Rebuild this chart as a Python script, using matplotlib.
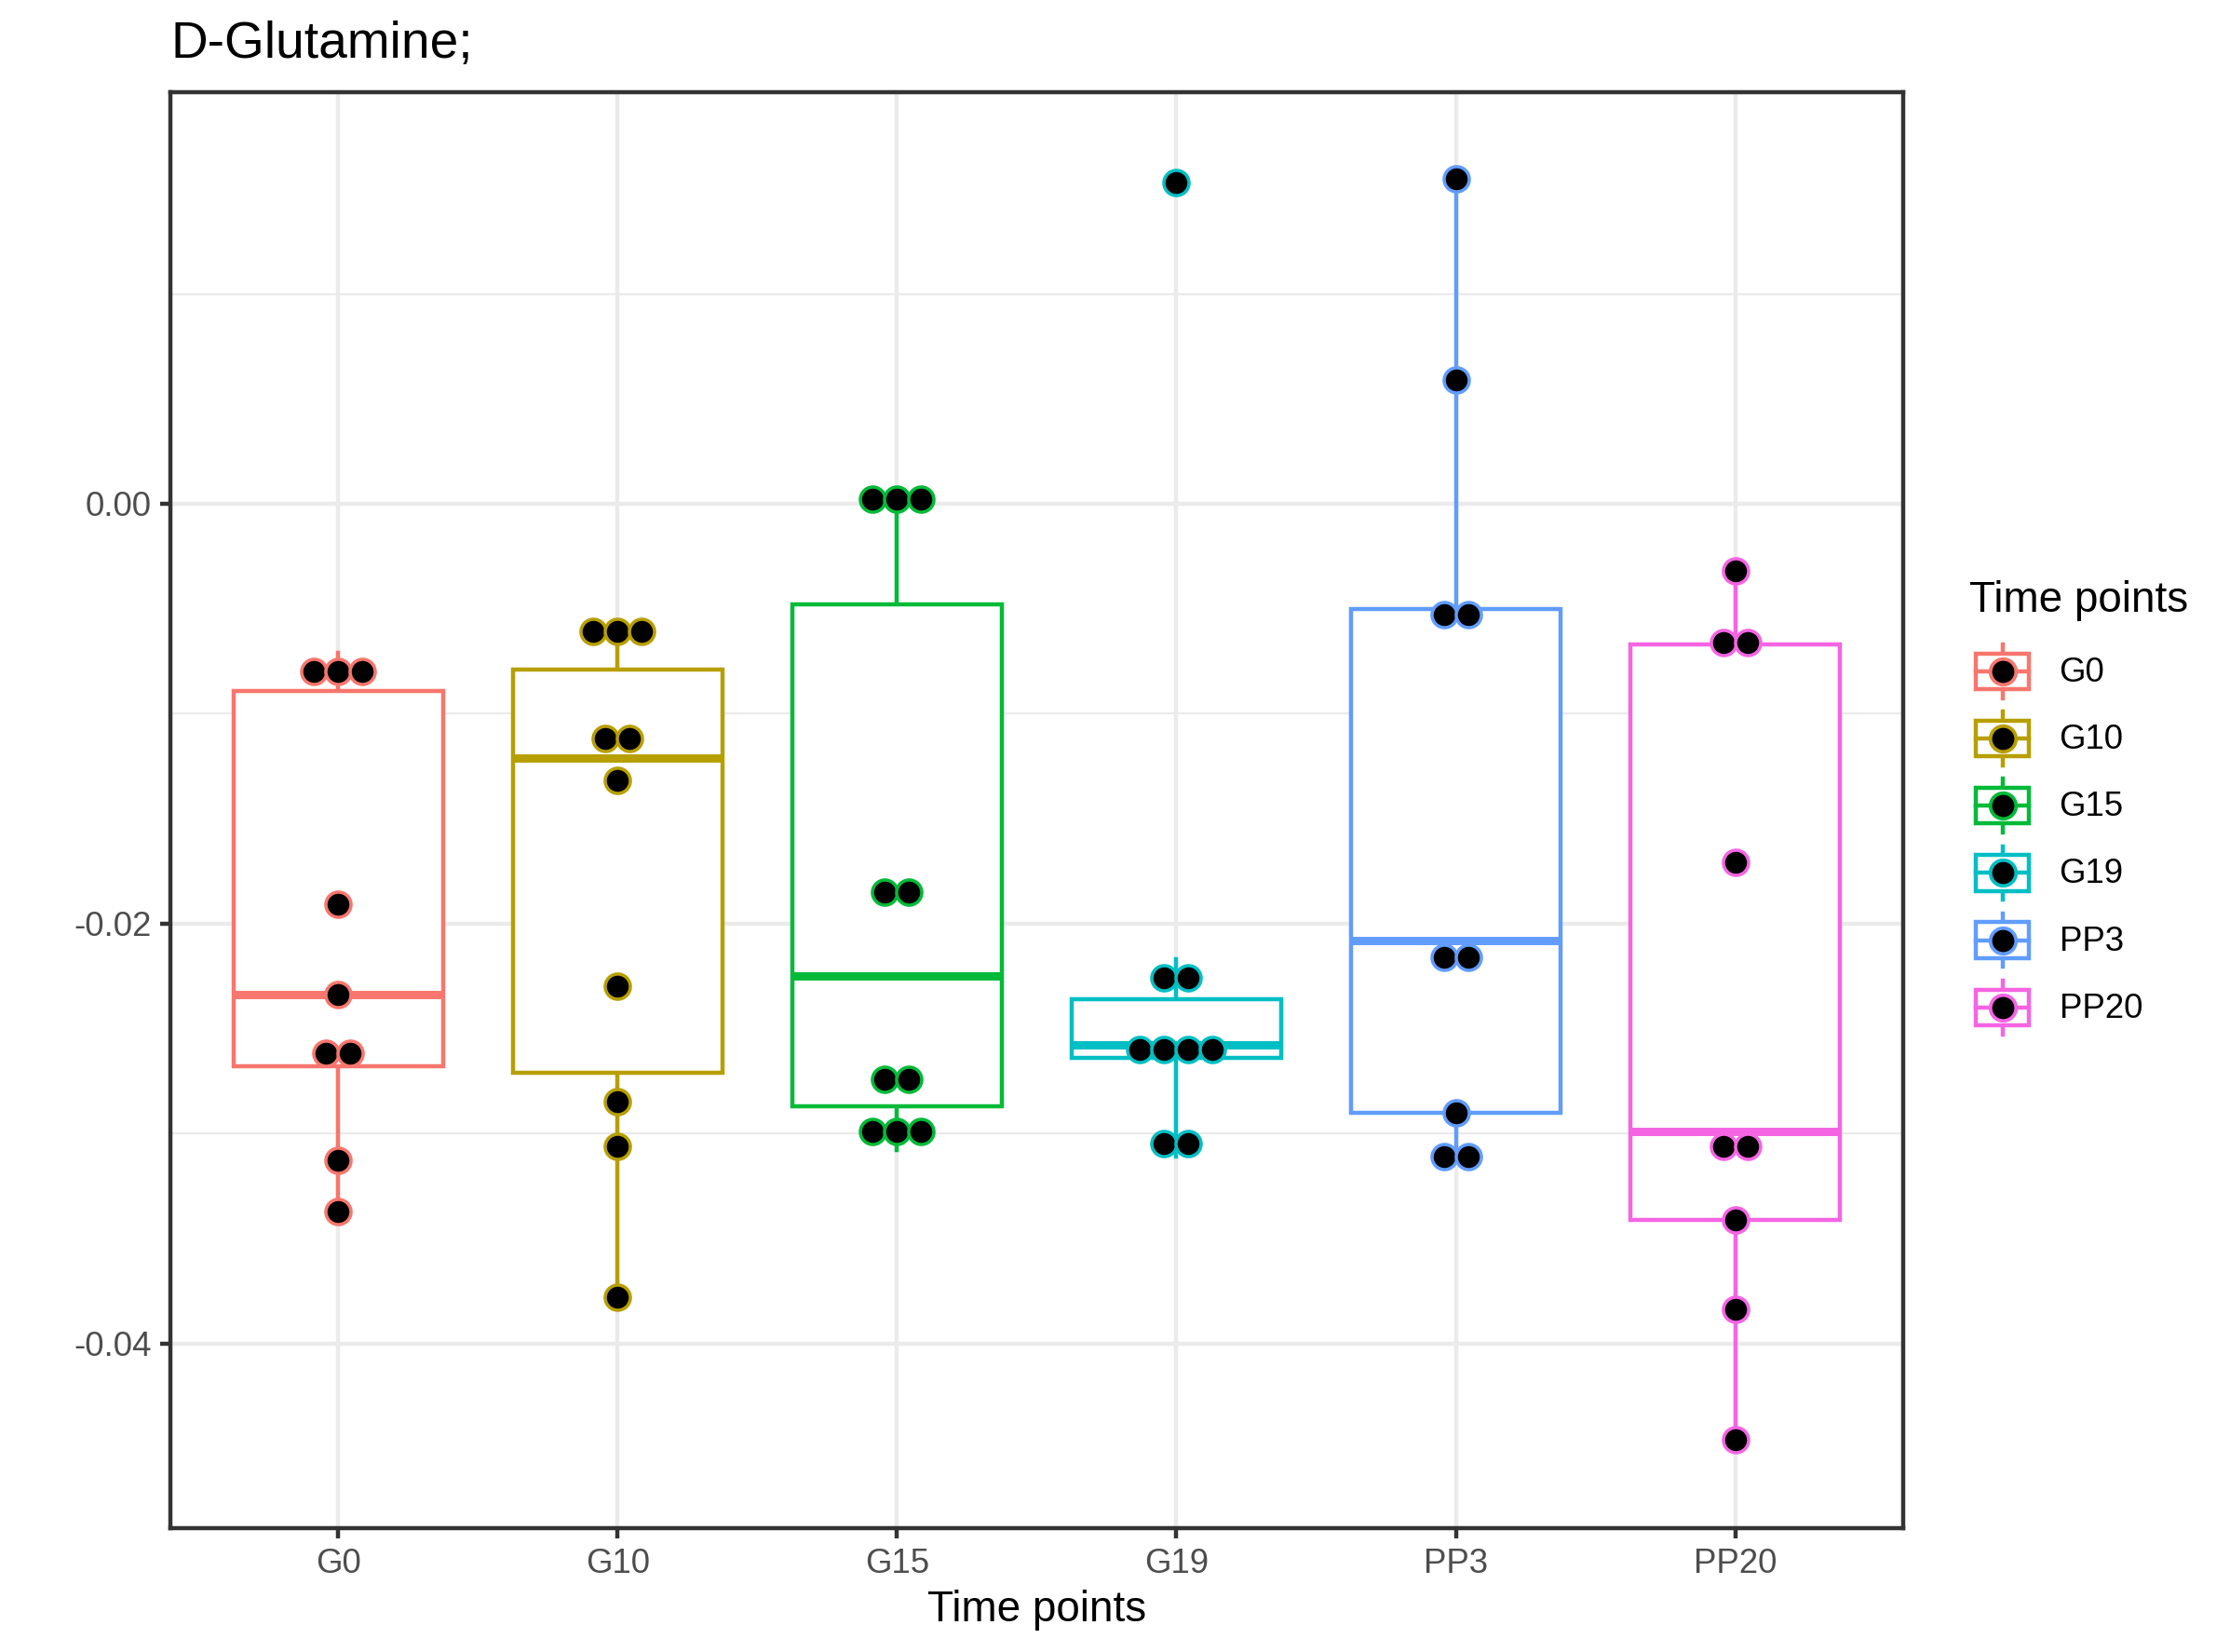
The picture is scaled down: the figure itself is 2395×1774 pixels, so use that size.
import numpy as np
import matplotlib.pyplot as plt
from matplotlib.legend_handler import HandlerBase
from matplotlib.patches import Rectangle
from matplotlib.lines import Line2D

plt.rcParams['font.family'] = ['Liberation Sans', 'DejaVu Sans']

groups = ["G0", "G10", "G15", "G19", "PP3", "PP20"]
colors = ["#F8766D", "#B79F00", "#00BA38", "#00BFC4", "#619CFF", "#F564E3"]

# dot positions as drawn (binned values, repeats are stacked side by side)
g0_vals = [-0.0080, -0.0080, -0.0080, -0.0191, -0.0234, -0.0262, -0.0262, -0.0313, -0.0337]
g10_vals = [-0.0061, -0.0061, -0.0061, -0.0112, -0.0112, -0.0132, -0.0230, -0.0285, -0.0306, -0.0378]
g15_vals = [0.0002, 0.0002, 0.0002, -0.0185, -0.0185, -0.0274, -0.0274, -0.0299, -0.0299, -0.0299]
g19_vals = [0.0153, -0.0226, -0.0226, -0.0260, -0.0260, -0.0260, -0.0260, -0.0305, -0.0305]
pp3_vals = [0.0155, 0.0059, -0.0053, -0.0053, -0.0216, -0.0216, -0.0290, -0.0311, -0.0311]
pp20_vals = [-0.0032, -0.0066, -0.0066, -0.0171, -0.0306, -0.0306, -0.0341, -0.0384, -0.0446]
dot_values = [g0_vals, g10_vals, g15_vals, g19_vals, pp3_vals, pp20_vals]

# box summary
whisk_lo = [-0.0338, -0.0380, -0.0308, -0.0311, -0.0311, -0.0446]
box_q1 = [-0.0268, -0.0271, -0.0287, -0.0264, -0.0290, -0.0341]
box_med = [-0.0234, -0.0121, -0.0225, -0.0258, -0.0208, -0.0299]
box_q3 = [-0.0089, -0.0079, -0.0048, -0.0236, -0.0050, -0.0067]
whisk_hi = [-0.0071, -0.0067, 0.0002, -0.0217, 0.0155, -0.0032]

y_ticks = [0.0, -0.02, -0.04]
y_tick_labels = ["0.00", "-0.02", "-0.04"]
y_minor = [0.01, -0.01, -0.03]

DPI = 300
LW = 1.07  # ggplot 0.5 mm line


class BoxDotHandler(HandlerBase):
    def create_artists(self, legend, orig_handle, xdescent, ydescent,
                       width, height, fontsize, trans):
        c = orig_handle.get_color()
        cx = -xdescent + width / 2
        cy = -ydescent + height / 2
        bw, bh = 0.80 * width, 0.53 * height
        wl = 0.40 * height
        arts = [
            Line2D([cx, cx], [cy - wl, cy + wl], color=c, lw=LW),
            Rectangle((cx - bw / 2, cy - bh / 2), bw, bh, facecolor="white",
                      edgecolor=c, lw=LW),
            Line2D([cx - bw / 2, cx + bw / 2], [cy, cy], color=c, lw=LW),
            Line2D([cx], [cy], marker="o", markersize=6.6, markerfacecolor="black",
                   markeredgecolor=c, markeredgewidth=0.9, linestyle="none"),
        ]
        for a in arts:
            a.set_transform(trans)
        return arts


fig = plt.figure(figsize=(2395 / DPI, 1774 / DPI), dpi=DPI)
ax = fig.add_axes([0.0765, 0.0749, 0.7768, 0.8691])

positions = np.arange(1, len(groups) + 1)
ax.set_xlim(0.4, len(groups) + 0.6)
ax.set_ylim(-0.04881, 0.01959)

# grid
for y in y_minor:
    ax.axhline(y, color="#EBEBEB", lw=LW / 2, zorder=0)
for y in y_ticks:
    ax.axhline(y, color="#EBEBEB", lw=LW, zorder=0)
for x in positions:
    ax.axvline(x, color="#EBEBEB", lw=LW, zorder=0)

stats = []
for i, g in enumerate(groups):
    stats.append(dict(label=g, whislo=whisk_lo[i], q1=box_q1[i], med=box_med[i],
                      q3=box_q3[i], whishi=whisk_hi[i], fliers=[]))

bp = ax.bxp(stats, positions=positions, widths=0.75, showcaps=False,
            showfliers=False, patch_artist=True)
for i, c in enumerate(colors):
    bp["boxes"][i].set(facecolor="white", edgecolor=c, linewidth=LW, zorder=2)
    bp["medians"][i].set(color=c, linewidth=2 * LW, zorder=3, solid_capstyle="butt")
    for w in bp["whiskers"][2 * i:2 * i + 2]:
        w.set(color=c, linewidth=LW, zorder=1.5)

# dot plot, centred stacks
ax_w_px = 0.7768 * 2395
step = 26.0 / (ax_w_px / (len(groups) + 0.2))
for i, vals in enumerate(dot_values):
    uniq, counts = np.unique(vals, return_counts=True)
    xs, ys = [], []
    for v, n in zip(uniq, counts):
        offs = (np.arange(n) - (n - 1) / 2) * step
        xs.extend(positions[i] + offs)
        ys.extend([v] * n)
    ax.scatter(xs, ys, s=42, facecolor="black", edgecolor=colors[i],
               linewidth=0.85, zorder=4)

ax.set_xticks(positions)
ax.set_xticklabels(groups)
ax.set_yticks(y_ticks)
ax.set_yticklabels(y_tick_labels)
ax.tick_params(axis="both", length=2.75, width=LW, color="#333333",
               labelcolor="#4D4D4D", labelsize=8.8, pad=2.2)
for sp in ax.spines.values():
    sp.set_color("#333333")
    sp.set_linewidth(LW)

ax.set_xlabel("Time points", fontsize=11, labelpad=2.5)
ax.set_title("D-Glutamine;", loc="left", fontsize=13.2, pad=9)

handles = [Line2D([], [], color=c, label=g) for g, c in zip(groups, colors)]
leg = fig.legend(handles=handles, handler_map={Line2D: BoxDotHandler()},
                 title="Time points", title_fontsize=11, fontsize=8.8,
                 loc="center left", bbox_to_anchor=(0.883, 0.5095),
                 frameon=False, borderpad=0, labelspacing=0,
                 handlelength=1.96, handleheight=2.65, handletextpad=0.68,
                 alignment="left", borderaxespad=0)
# gap between legend title and keys
leg._legend_box.sep = 4.4

fig.savefig("out.png", dpi=DPI)
